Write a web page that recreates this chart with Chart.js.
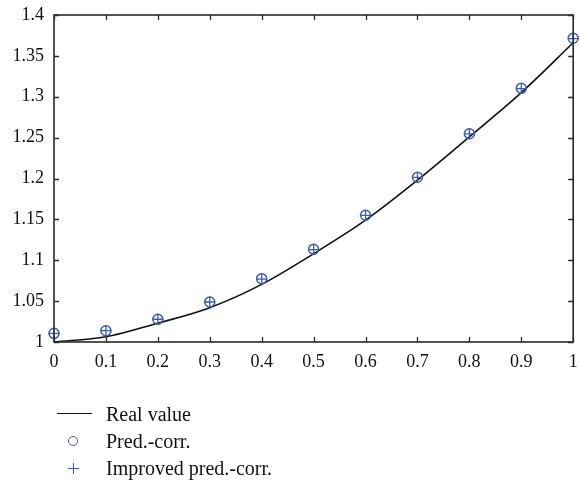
<!DOCTYPE html>
<html>
<head>
<meta charset="utf-8">
<script src="https://cdn.jsdelivr.net/npm/chart.js@4.4.1/dist/chart.umd.min.js"></script>
<style>
  html, body { margin: 0; padding: 0; background: #fff; }
  #wrap { position: relative; width: 580px; height: 481px; }
  #c { position: absolute; left: 0; top: 0; }
  #legend { position: absolute; left: 0; top: 0; width: 580px; height: 481px; pointer-events: none;
            font-family: "Liberation Serif", "DejaVu Serif", serif; font-size: 20px; color: #111; }
  .row { position: absolute; left: 106px; line-height: 20px; white-space: nowrap; }
  .sym { position: absolute; }
</style>
</head>
<body>
<div id="wrap">
  <canvas id="c" width="580" height="380"></canvas>
  <div id="legend"></div>
</div>
<script>
// ---- data ----
const xValues = [0, 0.1, 0.2, 0.3, 0.4, 0.5, 0.6, 0.7, 0.8, 0.9, 1.0];
const realValue = [1.000, 1.0065, 1.023, 1.042, 1.0705, 1.108, 1.149, 1.198, 1.251, 1.305, 1.366];
const predCorr = [1.0106, 1.0138, 1.0278, 1.0489, 1.0775, 1.1134, 1.1550, 1.2015, 1.2548, 1.3103, 1.3715];
const improvedPredCorr = [1.0106, 1.0138, 1.0278, 1.0489, 1.0770, 1.1130, 1.1548, 1.2013, 1.2545, 1.3100, 1.3712];
const xTickValues = [0, 0.1, 0.2, 0.3, 0.4, 0.5, 0.6, 0.7, 0.8, 0.9, 1];
const xTickLabels = ["0", "0.1", "0.2", "0.3", "0.4", "0.5", "0.6", "0.7", "0.8", "0.9", "1"];
const yTickValues = [1, 1.05, 1.1, 1.15, 1.2, 1.25, 1.3, 1.35, 1.4];
const yTickLabels = ["1", "1.05", "1.1", "1.15", "1.2", "1.25", "1.3", "1.35", "1.4"];
const seriesNames = ["Real value", "Pred.-corr.", "Improved pred.-corr."];

const markerColor = '#3a5cb4';
const lineColor = '#111111';
const axisColor = '#2a2a2a';
const fontFamily = '"Liberation Serif", "DejaVu Serif", serif';

const toPts = ys => xValues.map((x, i) => ({ x: x, y: ys[i] }));

const frameTicks = {
  id: 'frameTicks',
  afterDraw(chart) {
    const ctx = chart.ctx;
    const a = chart.chartArea;
    const xs = chart.scales.x, ys = chart.scales.y;
    const L = 5;
    ctx.save();
    ctx.strokeStyle = axisColor;
    ctx.lineWidth = 1.3;
    ctx.beginPath();
    xs.ticks.forEach(t => {
      const px = Math.round(xs.getPixelForValue(t.value)) + 0.5;
      ctx.moveTo(px, a.bottom); ctx.lineTo(px, a.bottom - L);
      ctx.moveTo(px, a.top); ctx.lineTo(px, a.top + L);
    });
    ys.ticks.forEach(t => {
      const py = Math.round(ys.getPixelForValue(t.value)) + 0.5;
      ctx.moveTo(a.left, py); ctx.lineTo(a.left + L, py);
      ctx.moveTo(a.right, py); ctx.lineTo(a.right - L, py);
    });
    ctx.stroke();
    ctx.lineWidth = 1.6;
    ctx.strokeRect(a.left, a.top, a.right - a.left, a.bottom - a.top);
    ctx.restore();
  }
};

new Chart(document.getElementById('c'), {
  type: 'scatter',
  data: {
    datasets: [
      { label: seriesNames[0], data: toPts(realValue), showLine: true, borderColor: lineColor,
        borderWidth: 1.6, pointRadius: 0, cubicInterpolationMode: 'monotone', order: 3 },
      { label: seriesNames[1], data: toPts(predCorr), showLine: false, pointStyle: 'circle',
        pointRadius: 5, pointBorderWidth: 1.5, pointBorderColor: markerColor,
        pointBackgroundColor: 'rgba(0,0,0,0)', order: 2, clip: false },
      { label: seriesNames[2], data: toPts(improvedPredCorr), showLine: false, pointStyle: 'cross',
        pointRadius: 5.5, pointBorderWidth: 1.3, pointBorderColor: markerColor, order: 1, clip: false }
    ]
  },
  options: {
    responsive: false,
    animation: false,
    layout: { padding: { top: 15, right: 5, left: 0, bottom: 0 } },
    plugins: { legend: { display: false }, tooltip: { enabled: false } },
    scales: {
      x: {
        type: 'linear', min: 0, max: 1,
        grid: { display: false, drawTicks: false },
        border: { display: false },
        afterBuildTicks: s => { s.ticks = xTickValues.map(v => ({ value: v })); },
        afterFit: s => { s.height = 38; s.paddingLeft = 0; s.paddingRight = 0; s.paddingTop = 0; s.paddingBottom = 0; },
        ticks: {
          padding: 9, color: '#111', font: { family: fontFamily, size: 18 },
          maxRotation: 0, autoSkip: false,
          callback: (v) => { const i = xTickValues.findIndex(t => Math.abs(t - v) < 1e-9); return i >= 0 ? xTickLabels[i] : ''; }
        }
      },
      y: {
        type: 'linear', min: 1, max: 1.4,
        grid: { display: false, drawTicks: false },
        border: { display: false },
        afterBuildTicks: s => { s.ticks = yTickValues.map(v => ({ value: v })); },
        afterFit: s => { s.width = 54; s.paddingLeft = 0; s.paddingRight = 0; s.paddingTop = 0; s.paddingBottom = 0; },
        ticks: {
          padding: 10, color: '#111', font: { family: fontFamily, size: 18 }, autoSkip: false,
          callback: (v) => { const i = yTickValues.findIndex(t => Math.abs(t - v) < 1e-9); return i >= 0 ? yTickLabels[i] : ''; }
        }
      }
    }
  },
  plugins: [frameTicks]
});

// ---- HTML legend ----
const legend = document.getElementById('legend');
const rowTops = [404, 431, 458];
seriesNames.forEach((name, i) => {
  const row = document.createElement('div');
  row.className = 'row';
  row.style.top = rowTops[i] + 'px';
  row.textContent = name;
  legend.appendChild(row);
  const sym = document.createElement('div');
  sym.className = 'sym';
  const cy = rowTops[i] + 10;
  if (i === 0) {
    sym.style.cssText = `left:57px;top:${cy - 1}px;width:35px;height:0;border-top:1.6px solid ${lineColor};`;
  } else if (i === 1) {
    sym.style.cssText = `left:${73 - 5}px;top:${cy - 5}px;width:8px;height:8px;border:1.5px solid ${markerColor};border-radius:50%;`;
  } else {
    sym.innerHTML = `<div style="position:absolute;left:${73 - 5}px;top:${cy}px;width:11px;height:1.3px;background:${markerColor}"></div>` +
                    `<div style="position:absolute;left:${73}px;top:${cy - 5}px;width:1.3px;height:11px;background:${markerColor}"></div>`;
    sym.style.cssText = 'left:0;top:0;';
  }
  legend.appendChild(sym);
});
</script>
</body>
</html>
